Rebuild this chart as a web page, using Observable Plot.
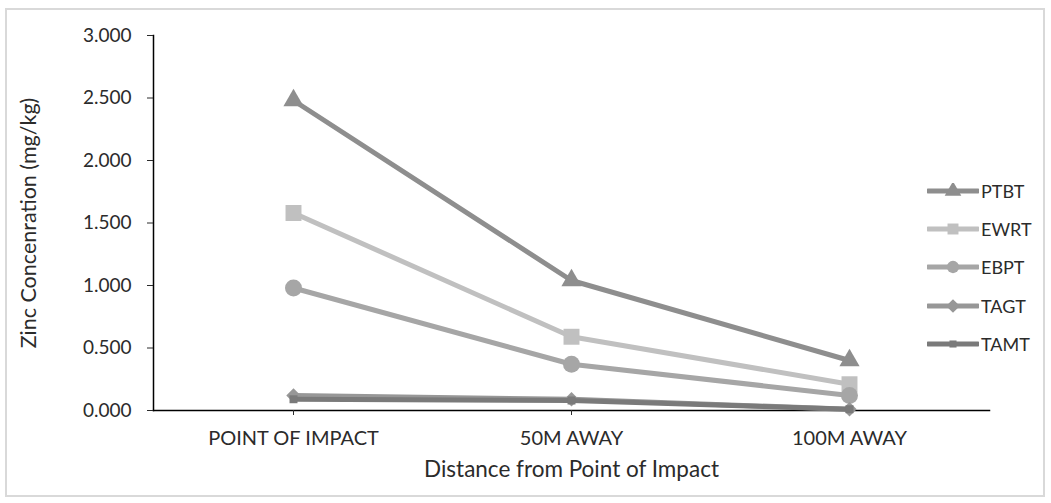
<!DOCTYPE html>
<html>
<head>
<meta charset="utf-8">
<script src="https://cdn.jsdelivr.net/npm/d3@7"></script>
<script src="https://cdn.jsdelivr.net/npm/@observablehq/plot@0.6"></script>
<style>
  html, body { margin: 0; padding: 0; background: #fff; }
  #wrap { position: relative; width: 1051px; height: 503px; overflow: hidden; font-family: Lato, sans-serif; }
  #frame { position: absolute; left: 5px; top: 8px; width: 1040px; height: 489px; border: 2px solid #d9d9d9; box-sizing: border-box; pointer-events: none; }
  #legend { position: absolute; left: 927px; top: 172px; font-size: 18px; color: #2b2b2b; }
  .item { display: flex; align-items: center; height: 38.2px; }
  .item span { margin-left: 2px; }
  #chart svg text { fill: #2b2b2b; }
</style>
</head>
<body>
<div id="wrap">
  <div id="frame"></div>
  <div id="chart"></div>
  <div id="legend"></div>
</div>
<script>
const categories = ["POINT OF IMPACT", "50M AWAY", "100M AWAY"];
const seriesNames = ["PTBT", "EWRT", "EBPT", "TAGT", "TAMT"];
const PTBT = [2.48, 1.04, 0.40];
const EWRT = [1.58, 0.59, 0.21];
const EBPT = [0.98, 0.37, 0.12];
const TAGT = [0.12, 0.09, 0.01];
const TAMT = [0.09, 0.08, 0.01];
const yTicks = [0, 0.5, 1, 1.5, 2, 2.5, 3];

const seriesValues = {PTBT, EWRT, EBPT, TAGT, TAMT};
const colors = ["#8e8e8e", "#c0c0c0", "#a6a6a6", "#979797", "#7a7a7a"];
const symbols = ["triangle", "square", "circle", "diamond2", "square"];
const radii = [7.5, 9, 8.5, 6.5, 4.5];

const data = [];
seriesNames.forEach(s => categories.forEach((c, i) => data.push({series: s, cat: c, value: seriesValues[s][i]})));

const marks = [
  Plot.frame({anchor: "left", stroke: "#000", strokeWidth: 1.5}),
  Plot.frame({anchor: "bottom", stroke: "#000", strokeWidth: 1.5}),
  Plot.axisY({ticks: yTicks, tickFormat: d3.format(".3f"), tickSize: 6, tickPadding: 16, fontSize: 19,
    label: null}),
  Plot.axisY({ticks: [], label: "Zinc Concenration (mg/kg)", labelAnchor: "center", labelArrow: "none", labelOffset: 133, fontSize: 21.5}),
  Plot.axisX({tickSize: 5, tickPadding: 15, fontSize: 20, label: null}),
  Plot.axisX({ticks: [], label: "Distance from Point of Impact", labelAnchor: "center", labelArrow: "none", labelOffset: 66, fontSize: 22.5}),
];
seriesNames.forEach((s, k) => {
  const d = data.filter(r => r.series === s);
  marks.push(Plot.line(d, {x: "cat", y: "value", stroke: colors[k], strokeWidth: 5}));
  marks.push(Plot.dot(d, {x: "cat", y: "value", fill: colors[k], symbol: () => symbols[k], r: radii[k]}));
});

const chart = Plot.plot({
  width: 1051, height: 503,
  marginLeft: 153, marginRight: 62, marginTop: 35, marginBottom: 93,
  style: {fontFamily: "Lato, sans-serif", fontSize: "19px", color: "#2b2b2b", background: "transparent"},
  x: {type: "point", domain: categories, padding: 0.5},
  y: {domain: [0, 3]},
  marks
});
document.getElementById("chart").appendChild(chart);

const legend = document.getElementById("legend");
seriesNames.forEach((s, k) => {
  const item = document.createElement("div");
  item.className = "item";
  const sym = d3.symbol(k === 3 ? d3.symbolDiamond2 : k === 0 ? d3.symbolTriangle : k === 2 ? d3.symbolCircle : d3.symbolSquare, k === 4 ? 50 : 120)();
  item.innerHTML = `<svg width="52" height="16"><line x1="1" x2="51" y1="8" y2="8" stroke="${colors[k]}" stroke-width="5" stroke-linecap="round"/><path d="${sym}" transform="translate(26,8)" fill="${colors[k]}"/></svg><span>${s}</span>`;
  legend.appendChild(item);
});
</script>
</body>
</html>
